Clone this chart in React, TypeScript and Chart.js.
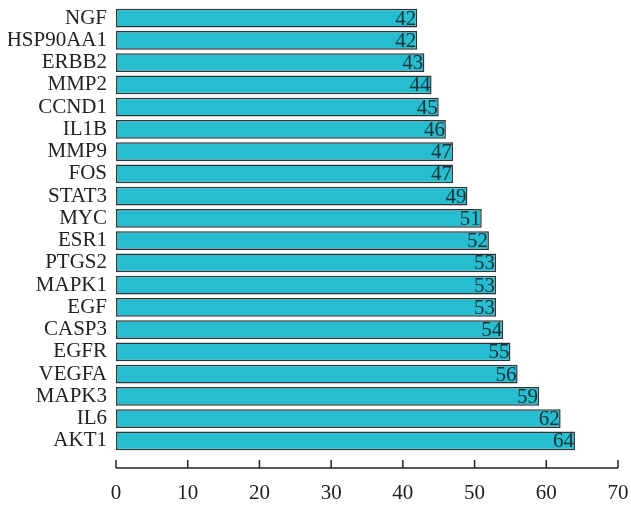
import React, { useEffect, useRef } from "react";
import { Chart, registerables } from "chart.js";

Chart.register(...registerables);

const genes = ["NGF", "HSP90AA1", "ERBB2", "MMP2", "CCND1", "IL1B", "MMP9", "FOS", "STAT3", "MYC", "ESR1", "PTGS2", "MAPK1", "EGF", "CASP3", "EGFR", "VEGFA", "MAPK3", "IL6", "AKT1"];
const degrees = [42, 42, 43, 44, 45, 46, 47, 47, 49, 51, 52, 53, 53, 53, 54, 55, 56, 59, 62, 64];
const xMin = 0;
const xMax = 70;
const xStep = 10;

const FONT = "'Liberation Serif', 'DejaVu Serif', serif";
const FSIZE = 21;

const valueLabels = {
  id: "valueLabels",
  afterDatasetsDraw(chart: any) {
    const ctx = chart.ctx;
    const meta = chart.getDatasetMeta(0);
    ctx.save();
    ctx.font = `${FSIZE}px ${FONT}`;
    ctx.fillStyle = "#1d3338";
    ctx.textAlign = "right";
    ctx.textBaseline = "middle";
    meta.data.forEach((el: any, i: number) => {
      ctx.fillText(String(degrees[i]), el.x - 1, el.y + 1);
    });
    ctx.restore();
  },
};

const bottomAxis = {
  id: "bottomAxis",
  afterDraw(chart: any) {
    const ctx = chart.ctx;
    const sx = chart.scales.x;
    const y = chart.chartArea.bottom + 16;
    ctx.save();
    ctx.strokeStyle = "#222";
    ctx.lineWidth = 1.5;
    ctx.beginPath();
    ctx.moveTo(sx.getPixelForValue(xMin), y);
    ctx.lineTo(sx.getPixelForValue(xMax), y);
    sx.ticks.forEach((t: any) => {
      const px = sx.getPixelForValue(t.value);
      ctx.moveTo(px, y);
      ctx.lineTo(px, y - 8);
    });
    ctx.stroke();
    ctx.restore();
  },
};

export default function App() {
  const ref = useRef<HTMLCanvasElement>(null);
  useEffect(() => {
    if (!ref.current) return;
    const chart = new Chart(ref.current, {
      type: "bar",
      data: {
        labels: genes,
        datasets: [
          {
            data: degrees,
            backgroundColor: "#27bdd0",
            borderColor: "#333333",
            borderWidth: 1.5,
            borderSkipped: false,
            barPercentage: 0.85,
            categoryPercentage: 1,
          },
        ],
      },
      options: {
        indexAxis: "y",
        animation: false,
        responsive: true,
        maintainAspectRatio: false,
        layout: { padding: { top: 7, left: 8, right: 13, bottom: 0 } },
        plugins: { legend: { display: false }, tooltip: { enabled: false } },
        scales: {
          x: {
            min: xMin,
            max: xMax,
            ticks: { stepSize: xStep, padding: 29, color: "#222", font: { family: FONT, size: FSIZE } },
            grid: { display: false, drawTicks: false },
            border: { display: false },
            afterFit: (s: any) => {
              s.height = 54;
              s.paddingLeft = 0;
              s.paddingRight = 0;
              s.paddingTop = 0;
              s.paddingBottom = 0;
            },
          },
          y: {
            ticks: { padding: 9, autoSkip: false, color: "#222", font: { family: FONT, size: FSIZE } },
            grid: { display: false, drawTicks: false },
            border: { display: false },
            afterFit: (s: any) => {
              s.width = 108;
              s.paddingLeft = 0;
              s.paddingRight = 0;
              s.paddingTop = 0;
              s.paddingBottom = 0;
            },
          },
        },
      },
      plugins: [valueLabels, bottomAxis],
    });
    return () => chart.destroy();
  }, []);
  return (
    <div style={{ position: "fixed", left: 0, top: 0, width: 631, height: 506, overflow: "hidden" }}>
      <canvas ref={ref} />
    </div>
  );
}
